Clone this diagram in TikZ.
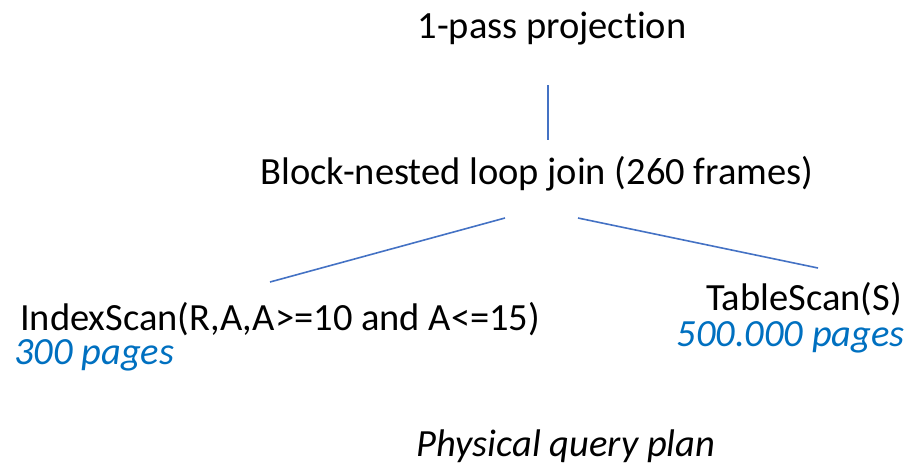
\documentclass[tikz,border=0pt]{standalone}
\usepackage{fontspec}
\setmainfont[Ligatures=NoCommon]{Carlito}
\definecolor{linkblue}{HTML}{4472C4}
\definecolor{noteblue}{HTML}{0070C0}
\begin{document}
\begin{tikzpicture}[x=1pt,y=-1pt,
  lbl/.style={inner sep=0pt,font=\fontsize{38.5}{44}\selectfont},
  note/.style={inner sep=0pt,font=\fontsize{38.5}{44}\selectfont\itshape,text=noteblue},
  edge/.style={draw=linkblue,line width=1.6pt}]
\useasboundingbox (0,0) rectangle (910,475);
\node[lbl,anchor=base] (proj) at (552,38) {1-pass projection};
\node[lbl,anchor=base] (join) at (537,184) {Block-nested loop join (260 frames)};
\node[lbl,anchor=base west] (iscan) at (20,330) {IndexScan(R,A,A>=10 and A<=15)};
\node[note,anchor=base west] (ip) at (14,364) {300 pages};
\node[lbl,anchor=base east] (tscan) at (902,310) {TableScan(S)};
\node[note,anchor=base east] (tp) at (905,346) {500.000 pages};
\node[lbl,anchor=base,font=\fontsize{38.5}{44}\selectfont\itshape] (cap) at (566,456) {Physical query plan};
\coordinate (p1) at (548,85);
\coordinate (p2) at (548,140);
\coordinate (l1) at (505,218);
\coordinate (l2) at (270,282);
\coordinate (r1) at (578,218);
\coordinate (r2) at (818,268);
\draw[edge] (p1) -- (p2);
\draw[edge] (l1) -- (l2);
\draw[edge] (r1) -- (r2);
\end{tikzpicture}
\end{document}
